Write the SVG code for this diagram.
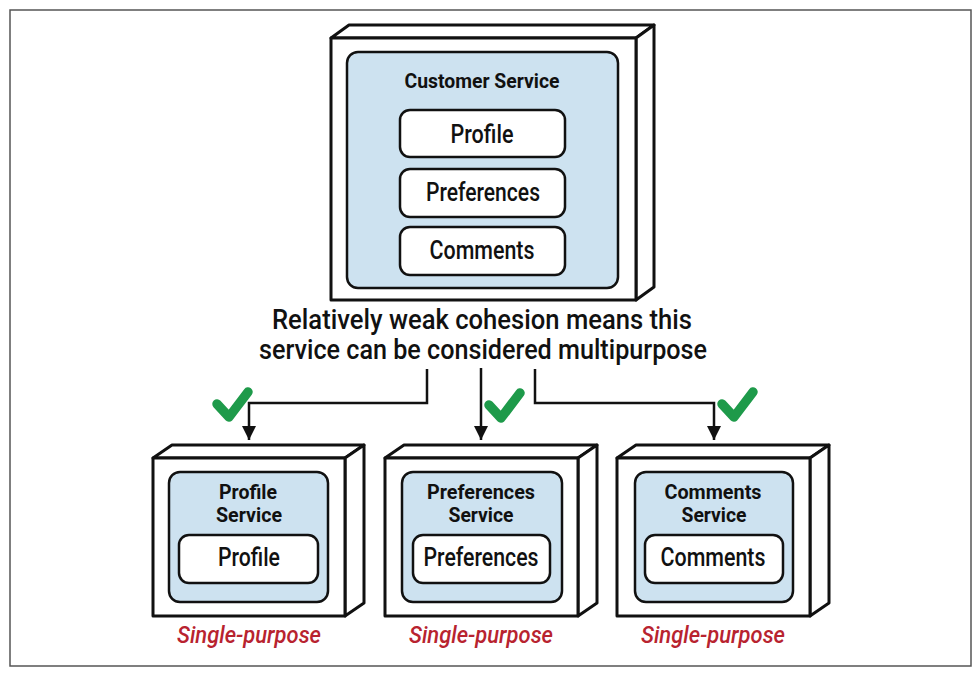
<svg xmlns="http://www.w3.org/2000/svg" width="980" height="677" viewBox="0 0 980 677">
<style>
.frame{fill:#fff;stroke:#555;stroke-width:1.5}
.box{fill:#fff;stroke:#111;stroke-width:3;stroke-linejoin:round}
.inner{fill:#cde2f0;stroke:#111;stroke-width:2.5}
.item{fill:#fff;stroke:#111;stroke-width:2.5}
.title{font-family:Roboto,"Liberation Sans",sans-serif;font-weight:bold;font-size:20px;fill:#111;text-anchor:middle}
.label{font-family:Roboto,"Liberation Sans",sans-serif;font-weight:500;font-size:25px;fill:#111;text-anchor:middle}
.main{font-family:Roboto,"Liberation Sans",sans-serif;font-weight:500;font-size:27px;fill:#111;text-anchor:middle}
.sp{font-family:Roboto,"Liberation Sans",sans-serif;font-style:italic;font-weight:500;font-size:24px;fill:#b8232f;text-anchor:middle}
.wire{fill:none;stroke:#111;stroke-width:2.5}
.check{fill:none;stroke:#1e9a4a;stroke-width:9.5;stroke-linecap:round;stroke-linejoin:round}
</style>
<defs>
<marker id="arr" markerUnits="userSpaceOnUse" markerWidth="16" markerHeight="14" refX="14" refY="7" orient="auto">
<path d="M0,0 L14,7 L0,14 Z" fill="#111"/>
</marker>
</defs>
<rect class="frame" x="10" y="10" width="961" height="656"/>

<g id="customer-service">
<path class="box" d="M331,38 L349,25 L654,25 L636,38 Z"/>
<path class="box" d="M636,38 L654,25 L654,287 L636,300 Z"/>
<rect class="box" x="331" y="38" width="305" height="262"/>
<rect class="inner" x="347" y="52" width="271" height="236" rx="11"/>
<text class="title" x="482" y="88" textLength="155" lengthAdjust="spacingAndGlyphs">Customer Service</text>
<g id="cs-profile"><rect class="item" x="400" y="110" width="165" height="47" rx="10"/>
<text class="label" x="482" y="143" textLength="63" lengthAdjust="spacingAndGlyphs">Profile</text></g>
<g id="cs-preferences"><rect class="item" x="400" y="169" width="165" height="48" rx="10"/>
<text class="label" x="483" y="201" textLength="114" lengthAdjust="spacingAndGlyphs">Preferences</text></g>
<g id="cs-comments"><rect class="item" x="400" y="227" width="165" height="48" rx="10"/>
<text class="label" x="482" y="259" textLength="105" lengthAdjust="spacingAndGlyphs">Comments</text></g>
</g>

<g id="caption">
<text class="main" x="482" y="329" textLength="420" lengthAdjust="spacingAndGlyphs">Relatively weak cohesion means this</text>
<text class="main" x="483" y="359" textLength="448" lengthAdjust="spacingAndGlyphs">service can be considered multipurpose</text>
</g>

<g id="connectors">
<path class="wire" d="M427,369 V403 H249 V440" marker-end="url(#arr)"/>
<path class="wire" d="M481,368 V440" marker-end="url(#arr)"/>
<path class="wire" d="M535,369 V403 H714 V440" marker-end="url(#arr)"/>
</g>

<g id="checks">
<path class="check" d="M217,404 L229,417 L248,392"/>
<path class="check" d="M489,405 L501,418 L520,393"/>
<path class="check" d="M722,404 L734,417 L753,392"/>
</g>

<g id="profile-service">
<path class="box" d="M153,458 L172,445 L364,445 L345,458 Z"/>
<path class="box" d="M345,458 L364,445 L364,603 L345,616 Z"/>
<rect class="box" x="153" y="458" width="192" height="158"/>
<rect class="inner" x="169" y="472" width="159" height="130" rx="11"/>
<text class="title" x="248" y="499" textLength="58" lengthAdjust="spacingAndGlyphs">Profile</text>
<text class="title" x="249" y="522" textLength="66" lengthAdjust="spacingAndGlyphs">Service</text>
<rect class="item" x="179" y="535" width="139" height="48" rx="10"/>
<text class="label" x="249" y="566" textLength="62" lengthAdjust="spacingAndGlyphs">Profile</text>
<text class="sp" x="249" y="643" textLength="144" lengthAdjust="spacingAndGlyphs">Single-purpose</text>
</g>

<g id="preferences-service">
<path class="box" d="M385,458 L404,445 L597,445 L578,458 Z"/>
<path class="box" d="M578,458 L597,445 L597,603 L578,616 Z"/>
<rect class="box" x="385" y="458" width="193" height="158"/>
<rect class="inner" x="402" y="472" width="160" height="130" rx="11"/>
<text class="title" x="481" y="499" textLength="108" lengthAdjust="spacingAndGlyphs">Preferences</text>
<text class="title" x="481" y="522" textLength="65" lengthAdjust="spacingAndGlyphs">Service</text>
<rect class="item" x="413" y="535" width="137" height="48" rx="10"/>
<text class="label" x="481" y="566" textLength="115" lengthAdjust="spacingAndGlyphs">Preferences</text>
<text class="sp" x="481" y="643" textLength="144" lengthAdjust="spacingAndGlyphs">Single-purpose</text>
</g>

<g id="comments-service">
<path class="box" d="M617,458 L636,445 L829,445 L810,458 Z"/>
<path class="box" d="M810,458 L829,445 L829,603 L810,616 Z"/>
<rect class="box" x="617" y="458" width="193" height="158"/>
<rect class="inner" x="635" y="472" width="158" height="130" rx="11"/>
<text class="title" x="713" y="499" textLength="97" lengthAdjust="spacingAndGlyphs">Comments</text>
<text class="title" x="714" y="522" textLength="65" lengthAdjust="spacingAndGlyphs">Service</text>
<rect class="item" x="645" y="535" width="138" height="48" rx="10"/>
<text class="label" x="713" y="566" textLength="105" lengthAdjust="spacingAndGlyphs">Comments</text>
<text class="sp" x="713" y="643" textLength="144" lengthAdjust="spacingAndGlyphs">Single-purpose</text>
</g>
</svg>
